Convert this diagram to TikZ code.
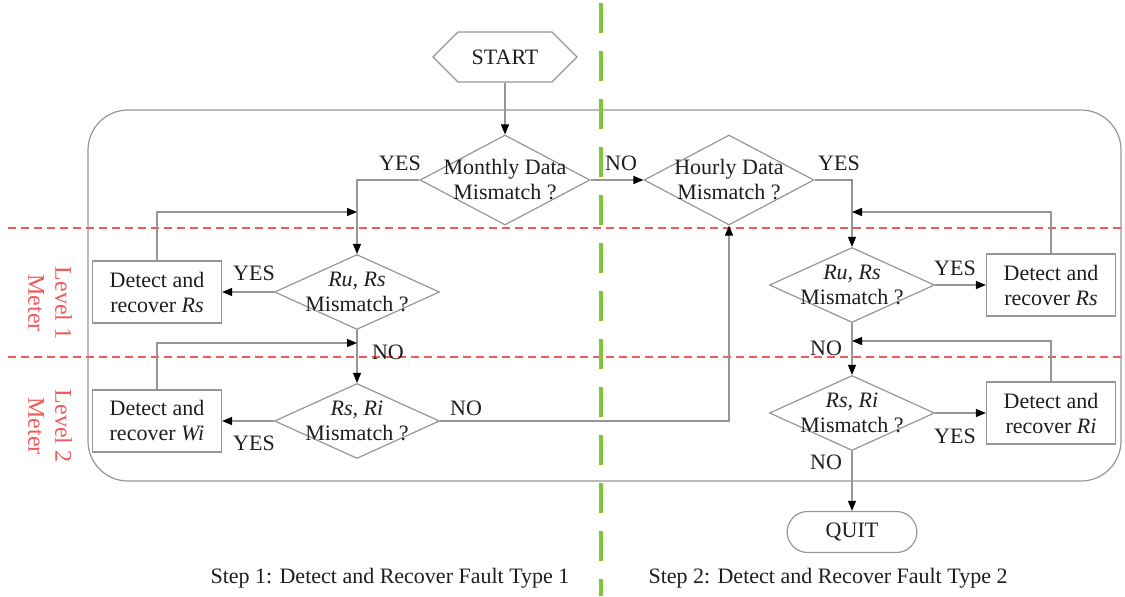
\documentclass[tikz,border=0pt]{standalone}
\usepackage{fontspec}
\setmainfont{Liberation Serif}
\usetikzlibrary{arrows.meta, shapes.geometric, shapes.symbols, shapes.misc}

\definecolor{linegray}{RGB}{150,150,150}
\definecolor{textblack}{RGB}{30,30,30}
\definecolor{levelred}{RGB}{240,90,90}
\definecolor{stepgreen}{RGB}{130,195,55}

\begin{document}
\begin{tikzpicture}[%
        x = 0.5pt,
        y = -0.5pt,
        line width = 0.6pt,
        > = {Triangle[black, length = 5pt, width = 4pt]},
        every node/.style = {%
            font = \fontsize{11}{12.5}\selectfont,
            text = textblack
        },
        flow/.style = {%
            draw = linegray,
            ->
        },
        startbox/.style = {%
            signal,
            signal to = east and west,
            draw = linegray,
            minimum width = 72pt,
            minimum height = 25pt
        },
        quitbox/.style = {%
            rounded rectangle,
            draw = linegray,
            minimum width = 71.5pt,
            minimum height = 20.5pt
        },
        decision/.style = {%
            diamond,
            draw = linegray,
            inner sep = 0pt,
            minimum width = 82.5pt,
            minimum height = 37.5pt
        },
        bigdecision/.style = {%
            decision,
            minimum width = 85pt,
            minimum height = 45pt
        },
        process/.style = {%
            rectangle,
            draw = linegray,
            align = center,
            minimum width = 64.5pt,
            minimum height = 31pt
        },
        answer/.style = {%
            inner sep = 0pt
        },
        levellabel/.style = {%
            font = \fontsize{12}{13.5}\selectfont,
            text = levelred,
            align = center,
            rotate = -90
        },
        steplabel/.style = {%
            font = \fontsize{11}{13}\selectfont
        }
    ]

        \useasboundingbox (0, 0) rectangle (1125, 596);

        % Rounded frame round both steps.
        \draw[draw = linegray, rounded corners = 20pt] (88, 110) rectangle (1121, 481);

        % Red dashed lines between the meter levels.
        \draw[draw = levelred, line width = 1pt, dash pattern = on 4pt off 2.5pt] (8, 228) -- (1125, 228);
        \draw[draw = levelred, line width = 1pt, dash pattern = on 4pt off 2.5pt] (8, 357) -- (1125, 357);

        % Green dashed line between the two steps.
        \draw[draw = stepgreen, line width = 2pt, dash pattern = on 15pt off 9pt] (601, 3) -- (601, 596);

        % Start and end.
        \node[startbox] (start) at (505, 57) {START};
        \node[quitbox] (quit) at (852, 532) {QUIT};

        % Decisions.
        \node[bigdecision, label = {[align = center]center:{Monthly Data\\Mismatch ?}}] (monthly) at (505, 180) {};
        \node[bigdecision, label = {[align = center]center:{Hourly Data\\Mismatch ?}}] (hourly) at (729, 180) {};
        \node[decision, label = {[align = center]center:{\textit{Ru, Rs}\\Mismatch ?}}] (rursa) at (357, 292) {};
        \node[decision, label = {[align = center]center:{\textit{Rs, Ri}\\Mismatch ?}}] (rsria) at (357, 421) {};
        \node[decision, label = {[align = center]center:{\textit{Ru, Rs}\\Mismatch ?}}] (rursb) at (852, 285) {};
        \node[decision, label = {[align = center]center:{\textit{Rs, Ri}\\Mismatch ?}}] (rsrib) at (852, 413) {};

        % Recovery boxes.
        \node[process] (recrsa) at (157, 292) {Detect and\\recover \textit{Rs}};
        \node[process] (recwi) at (157, 421) {Detect and\\recover \textit{Wi}};
        \node[process] (recrsb) at (1051, 285) {Detect and\\recover \textit{Rs}};
        \node[process] (recri) at (1051, 413) {Detect and\\recover \textit{Ri}};

        % Points where the loops come back.
        \coordinate (joina) at (357, 212);
        \coordinate (joinb) at (357, 343);
        \coordinate (joinc) at (852, 212);
        \coordinate (joind) at (852, 341);

        % Step 1.
        \draw[flow] (start.south) -- (monthly.north);
        \draw[flow] (monthly.west) -| (rursa.north);
        \draw[flow] (recrsa.north) |- (joina);
        \draw[flow] (rursa.west) -- (recrsa.east);
        \draw[flow] (rursa.south) -- (rsria.north);
        \draw[flow] (recwi.north) |- (joinb);
        \draw[flow] (rsria.west) -- (recwi.east);
        \draw[flow] (rsria.east) -| (hourly.south);

        % Step 2.
        \draw[flow] (monthly.east) -- (hourly.west);
        \draw[flow] (hourly.east) -| (rursb.north);
        \draw[flow] (recrsb.north) |- (joinc);
        \draw[flow] (rursb.east) -- (recrsb.west);
        \draw[flow] (rursb.south) -- (rsrib.north);
        \draw[flow] (recri.north) |- (joind);
        \draw[flow] (rsrib.east) -- (recri.west);
        \draw[flow] (rsrib.south) -- (quit.north);

        % Answers on the branches.
        \node[answer] (yesa) at (400, 163) {YES};
        \node[answer] (noa) at (621, 163) {NO};
        \node[answer] (yesb) at (839, 163) {YES};
        \node[answer] (yesc) at (254, 273) {YES};
        \node[answer] (nob) at (388, 352) {NO};
        \node[answer] (yesd) at (254, 443) {YES};
        \node[answer] (noc) at (466, 408) {NO};
        \node[answer] (yese) at (955, 268) {YES};
        \node[answer] (nod) at (826, 348) {NO};
        \node[answer] (yesf) at (955, 436) {YES};
        \node[answer] (noe) at (826, 462) {NO};

        % Meter levels.
        \node[levellabel] (levela) at (50, 303) {Level 1\\Meter};
        \node[levellabel] (levelb) at (50, 426) {Level 2\\Meter};

        % Step titles.
        \node[steplabel] (stepa) at (390, 578) {Step 1: Detect and Recover Fault Type 1};
        \node[steplabel] (stepb) at (828, 578) {Step 2: Detect and Recover Fault Type 2};
    \end{tikzpicture}
\end{document}
